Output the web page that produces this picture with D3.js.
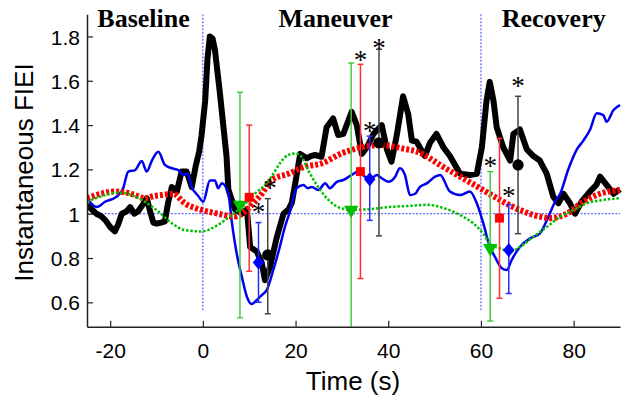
<!DOCTYPE html>
<html>
<head>
<meta charset="utf-8">
<script src="https://cdn.jsdelivr.net/npm/d3@7"></script>
<style>
  body { margin: 0; background: #fff; }
  svg { display: block; }
</style>
</head>
<body>
<div id="chart"></div>
<script>
// time axis values (s) and FIEI readings for each curve
const blackT = [-25, -24, -23, -22, -21, -20, -19, -18.3, -17.5, -16.5, -15.7, -14.8, -14, -13, -12.1, -11.5, -10.7, -10, -9, -8.2, -7.5, -6.7, -5.6, -4.6, -3.5, -2.4, -1.6, -0.8, -0.3, 0.5, 1, 1.5, 2.1, 2.6, 3.7, 5.1, 5.5, 6.9, 8.4, 9.5, 10.2, 11.6, 12.7, 13.4, 14.5, 15.9, 17.4, 18.5, 19.2, 20.2, 21, 22.4, 23.3, 24.2, 25.6, 26.7, 28.1, 29.2, 30.3, 32.1, 33.2, 34.3, 35.4, 36.8, 38.6, 39.7, 40.7, 41.8, 43.2, 44.3, 45.1, 46.1, 47.9, 49, 50.4, 51.9, 53.3, 55.5, 57.6, 59.1, 60.2, 61.2, 61.9, 62.7, 63.4, 64.8, 66.3, 67, 68.4, 69.9, 71.3, 72.7, 74.2, 75.6, 76.7, 77.8, 79.2, 80.3, 81.7, 83.5, 84.9, 85.7, 87.1, 88.6, 90];
const blackV = [1.04, 1.02, 1.0, 0.99, 0.97, 0.94, 0.92, 0.95, 1.0, 1.01, 1.03, 1.0, 1.01, 1.04, 1.07, 1.02, 0.96, 0.955, 0.96, 0.965, 1.05, 1.12, 1.10, 1.19, 1.19, 1.12, 1.21, 1.28, 1.35, 1.51, 1.70, 1.80, 1.79, 1.74, 1.54, 1.26, 1.11, 1.02, 1.0, 1.02, 0.85, 0.83, 0.78, 0.70, 0.76, 0.89, 1.0, 1.02, 1.05, 1.17, 1.27, 1.25, 1.26, 1.265, 1.257, 1.39, 1.43, 1.355, 1.36, 1.46, 1.40, 1.27, 1.30, 1.36, 1.40, 1.29, 1.235, 1.35, 1.53, 1.45, 1.33, 1.325, 1.26, 1.32, 1.36, 1.30, 1.26, 1.18, 1.175, 1.18, 1.30, 1.51, 1.595, 1.51, 1.39, 1.30, 1.24, 1.36, 1.38, 1.29, 1.26, 1.24, 1.18, 1.077, 1.047, 1.09, 1.047, 1.0, 1.054, 1.10, 1.13, 1.167, 1.13, 1.09, 1.11];

const blueT = [-25, -22.9, -21.1, -18.6, -17.2, -16.1, -14.6, -13.2, -12.1, -11, -9.6, -8.2, -6.7, -5.3, -4.2, -3.3, -2.4, -1, 0.1, 1.5, 2.6, 3.3, 4.1, 5.5, 6.2, 7.3, 8.4, 9.5, 10.5, 11.6, 12.7, 13.8, 15.2, 16.6, 17.7, 18.8, 20.2, 21.7, 22.6, 23.5, 24.9, 26.4, 27.4, 28.9, 30.3, 32.1, 33.5, 34.8, 36.1, 37.5, 38.6, 40, 41.5, 42.5, 43.6, 44.7, 45.8, 46.8, 48.3, 50.1, 51.2, 53.3, 55.5, 57.6, 59.1, 60.5, 61.9, 63, 64.5, 65.6, 66.6, 68.4, 70.6, 72.7, 74.2, 76, 77.1, 78.8, 80.7, 82.1, 83.5, 85, 86.4, 87.1, 88.6, 90];
const blueV = [1.07, 1.03, 1.054, 1.077, 1.115, 1.19, 1.197, 1.238, 1.19, 1.24, 1.28, 1.22, 1.205, 1.197, 1.175, 1.18, 1.12, 1.08, 1.054, 1.15, 1.15, 1.115, 1.137, 1.09, 0.97, 0.82, 0.716, 0.625, 0.592, 0.61, 0.633, 0.656, 0.746, 0.85, 0.94, 1.01, 1.115, 1.13, 1.115, 1.12, 1.107, 1.137, 1.115, 1.144, 1.152, 1.175, 1.19, 1.17, 1.155, 1.175, 1.16, 1.144, 1.167, 1.205, 1.175, 1.084, 1.09, 1.12, 1.137, 1.167, 1.175, 1.10, 1.084, 1.10, 1.047, 0.957, 0.85, 0.806, 0.754, 0.746, 0.79, 0.85, 0.889, 0.91, 0.97, 1.054, 1.09, 1.197, 1.29, 1.33, 1.378, 1.453, 1.445, 1.415, 1.468, 1.49];

const redT = [-25, -22, -19, -16.5, -14.6, -12.5, -10.5, -8.9, -6.4, -3.9, -0.3, 3.3, 6.9, 9.1, 11.2, 12.7, 14.8, 18.4, 22, 25.6, 29.9, 34.3, 38.6, 42.9, 47.2, 50.1, 51.2, 55.5, 59.8, 64.1, 68.4, 72.7, 74.9, 78.5, 82.1, 85.7, 90];
const redV = [1.07, 1.09, 1.10, 1.095, 1.084, 1.07, 1.08, 1.084, 1.09, 1.047, 1.017, 1.0, 0.987, 1.01, 1.054, 1.09, 1.152, 1.18, 1.212, 1.227, 1.272, 1.30, 1.31, 1.295, 1.272, 1.235, 1.22, 1.167, 1.115, 1.062, 1.017, 0.987, 0.98, 1.0, 1.054, 1.09, 1.107];

const greenT = [-25, -21.1, -18.2, -15.4, -12.5, -9.6, -6.7, -3.9, -0.3, 3.3, 6.2, 8.4, 11.2, 13.4, 14.8, 16.6, 18.4, 19.9, 21.3, 22.7, 24.9, 27.1, 29.2, 32.1, 35.7, 40, 44.3, 48.6, 51.2, 55.5, 58.3, 60.5, 61.9, 64.1, 66.3, 68.4, 71.3, 74.2, 77.1, 80, 82.8, 86.4, 90];
const greenV = [1.054, 1.084, 1.096, 1.084, 1.054, 1.01, 0.957, 0.926, 0.92, 0.95, 0.994, 1.03, 1.09, 1.13, 1.167, 1.227, 1.265, 1.272, 1.257, 1.197, 1.12, 1.062, 1.03, 1.017, 1.02, 1.03, 1.035, 1.04, 1.03, 0.994, 0.957, 0.91, 0.866, 0.844, 0.83, 0.85, 0.896, 0.94, 0.987, 1.017, 1.047, 1.062, 1.07];

// mean markers with error bars (time, mean, low, high)
const greenPtT = [8, 32, 62], greenPtM = [1.04, 1.017, 0.844], greenPtLo = [0.53, 0.40, 0.516], greenPtHi = [1.548, 1.68, 1.19];
const redPtT = [10, 34, 64], redPtM = [1.074, 1.19, 0.98], redPtLo = [0.74, 0.708, 0.618], redPtHi = [1.40, 1.674, 1.34];
const bluePtT = [12, 36, 66], bluePtM = [0.78, 1.155, 0.836], bluePtLo = [0.60, 0.97, 0.64], bluePtHi = [0.96, 1.35, 1.04];
const blackPtT = [14, 38, 68], blackPtM = [0.814, 1.32, 1.22], blackPtLo = [0.548, 0.90, 0.91], blackPtHi = [1.068, 1.742, 1.53];

// significance asterisks (time, FIEI)
const starT = [12, 14.5, 34, 36, 38, 62, 66, 68];
const starV = [1.026, 1.134, 1.712, 1.393, 1.767, 1.235, 1.099, 1.596];

const xTicks = [-20, 0, 20, 40, 60, 80];
const yTicks = [0.6, 0.8, 1, 1.2, 1.4, 1.6, 1.8];
const phaseLabels = ["Baseline", "Maneuver", "Recovery"];
const phaseCenters = [-12.8, 28.6, 75.7];
const phaseLines = [0, 60];

const W = 623, H = 396;
const svg = d3.select("#chart").append("svg").attr("width", W).attr("height", H);

const x = d3.scaleLinear().domain([-25, 90]).range([87, 620]);
const y = d3.scaleLinear().domain([0.49, 1.9]).range([326.7, 14.3]);

svg.append("defs").append("clipPath").attr("id", "plotclip")
    .append("rect").attr("x", 87).attr("y", 0).attr("width", 540).attr("height", 326.7);

const plot = svg.append("g").attr("clip-path", "url(#plotclip)");

// reference lines
plot.selectAll(".vref").data(phaseLines).enter().append("line")
    .attr("x1", d => x(d)).attr("x2", d => x(d))
    .attr("y1", y(1.9)).attr("y2", y(0.56))
    .attr("stroke", "#3344ff").attr("stroke-width", 1).attr("stroke-dasharray", "2,1.5");
plot.append("line")
    .attr("x1", x(-25)).attr("x2", x(90)).attr("y1", y(1)).attr("y2", y(1))
    .attr("stroke", "#3344ff").attr("stroke-width", 1).attr("stroke-dasharray", "2,1.5");

const zip = (ts, vs) => ts.map((t, i) => [t, vs[i]]);
const lineLin = d3.line().x(d => x(d[0])).y(d => y(d[1]));
const lineSmooth = d3.line().x(d => x(d[0])).y(d => y(d[1])).curve(d3.curveMonotoneX);

plot.append("path").datum(zip(blackT, blackV))
    .attr("d", lineLin).attr("fill", "none").attr("stroke", "#000")
    .attr("stroke-width", 6).attr("stroke-linejoin", "round");
plot.append("path").datum(zip(blueT, blueV))
    .attr("d", lineSmooth).attr("fill", "none").attr("stroke", "#0000f0")
    .attr("stroke-width", 2.5);
plot.append("path").datum(zip(redT, redV))
    .attr("d", lineSmooth).attr("fill", "none").attr("stroke", "#ff0000")
    .attr("stroke-width", 6).attr("stroke-dasharray", "3,2");
plot.append("path").datum(zip(greenT, greenV))
    .attr("d", lineSmooth).attr("fill", "none").attr("stroke", "#00c000")
    .attr("stroke-width", 2.5).attr("stroke-dasharray", "2.5,1.8");

// error bars + markers
const diamond = {
    draw(ctx, size) {
        const h = Math.sqrt(size) * 0.8, w = h * 0.8;
        ctx.moveTo(0, -h); ctx.lineTo(w, 0); ctx.lineTo(0, h); ctx.lineTo(-w, 0); ctx.closePath();
    }
};
const groups = [
    {t: greenPtT, m: greenPtM, lo: greenPtLo, hi: greenPtHi, bar: "#44cc44", fill: "#00c000", sym: d3.symbolTriangle, size: 90, rot: 180},
    {t: redPtT, m: redPtM, lo: redPtLo, hi: redPtHi, bar: "#ff3030", fill: "#ff0000", sym: d3.symbolSquare, size: 80, rot: 0},
    {t: bluePtT, m: bluePtM, lo: bluePtLo, hi: bluePtHi, bar: "#2a2aff", fill: "#0000ff", sym: diamond, size: 80, rot: 0},
    {t: blackPtT, m: blackPtM, lo: blackPtLo, hi: blackPtHi, bar: "#444", fill: "#000", sym: d3.symbolCircle, size: 100, rot: 0}
];
groups.forEach(g => {
    const pts = g.t.map((t, i) => ({t: t, m: g.m[i], lo: g.lo[i], hi: g.hi[i]}));
    const eb = plot.append("g");
    eb.selectAll(".stem").data(pts).enter().append("line")
        .attr("x1", d => x(d.t)).attr("x2", d => x(d.t))
        .attr("y1", d => y(d.lo)).attr("y2", d => y(d.hi))
        .attr("stroke", g.bar).attr("stroke-width", 1.5);
    ["lo", "hi"].forEach(k => {
        eb.selectAll(".cap" + k).data(pts).enter().append("line")
            .attr("x1", d => x(d.t) - 3).attr("x2", d => x(d.t) + 3)
            .attr("y1", d => y(d[k])).attr("y2", d => y(d[k]))
            .attr("stroke", g.bar).attr("stroke-width", 1.5);
    });
    eb.selectAll(".mk").data(pts).enter().append("path")
        .attr("d", d3.symbol().type(g.sym).size(g.size))
        .attr("transform", d => `translate(${x(d.t)},${y(d.m)}) rotate(${g.rot})`)
        .attr("fill", g.fill);
});

// asterisks
svg.selectAll(".star").data(zip(starT, starV)).enter().append("text")
    .attr("x", d => x(d[0])).attr("y", d => y(d[1]) + 13)
    .attr("text-anchor", "middle")
    .style("font-family", "Liberation Serif")
    .style("font-size", "27px")
    .text("*");

// axes
const xAxis = svg.append("g").attr("transform", `translate(0,${y(0.49)})`)
    .call(d3.axisBottom(x).tickValues(xTicks).tickSize(-6).tickSizeOuter(0).tickFormat(d => String(d)));
const yAxis = svg.append("g").attr("transform", `translate(${x(-25)},0)`)
    .call(d3.axisLeft(y).tickValues(yTicks).tickSize(-6).tickSizeOuter(0).tickFormat(d => d === 1 ? "1" : d3.format(".1f")(d)));
[xAxis, yAxis].forEach(a => {
    a.select(".domain").attr("stroke", "#222").attr("stroke-width", 1.5);
    a.selectAll(".tick line").attr("stroke", "#222").attr("stroke-width", 1.2);
    a.selectAll("text").attr("fill", "#000")
        .style("font-family", "Liberation Sans, Arial, sans-serif").style("font-size", "21px");
});
xAxis.selectAll("text").attr("y", 31.5).attr("dy", null);
yAxis.selectAll("text").attr("x", -7).attr("dy", "0.36em");

// axis titles
svg.append("text")
    .attr("x", 353).attr("y", 390)
    .attr("text-anchor", "middle")
    .style("font-family", "Liberation Sans, Arial, sans-serif").style("font-size", "26px")
    .text("Time (s)");
svg.append("text")
    .attr("transform", "translate(33,172.5) rotate(-90)")
    .attr("text-anchor", "middle")
    .style("font-family", "Liberation Sans, Arial, sans-serif").style("font-size", "26px")
    .text("Instantaneous FIEI");

// phase labels
svg.selectAll(".phase").data(phaseLabels).enter().append("text")
    .attr("x", (d, i) => x(phaseCenters[i])).attr("y", 26.5)
    .attr("text-anchor", "middle")
    .style("font-family", "Liberation Serif, Times New Roman, serif")
    .style("font-weight", "bold").style("font-size", "26px")
    .text(d => d);
</script>
</body>
</html>
